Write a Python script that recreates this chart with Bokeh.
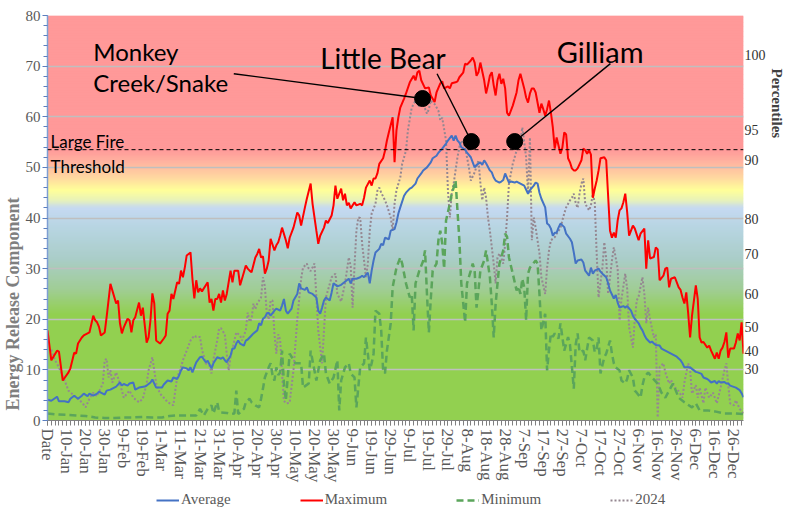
import math
import numpy as np
from bokeh.plotting import figure
from bokeh.layouts import column
from bokeh.models import (Range1d, LinearAxis, FixedTicker, Legend, LegendItem, Label, Span, Title)
from bokeh.embed import file_html
from bokeh.resources import INLINE

# ---------------- data ----------------
tick_days = list(range(0, 361, 10))
tick_labels = ["Date", "10-Jan", "20-Jan", "30-Jan", "9-Feb", "19-Feb", "1-Mar", "11-Mar",
               "21-Mar", "31-Mar", "10-Apr", "20-Apr", "30-Apr", "10-May", "20-May", "30-May",
               "9-Jun", "19-Jun", "29-Jun", "9-Jul", "19-Jul", "29-Jul", "8-Aug", "18-Aug",
               "28-Aug", "7-Sep", "17-Sep", "27-Sep", "7-Oct", "17-Oct", "27-Oct", "6-Nov",
               "16-Nov", "26-Nov", "6-Dec", "16-Dec", "26-Dec"]

avg_pts = [(0,4.1),(2,3.9),(5,4.7),(6,3.8),(9,3.8),(11,3.6),(12,4.3),(14,4.9),(16,4.3),(18,4.9),(19,5.3),(21,4.8),(22,5.3),(24,4.9),(26,5.3),(27,5.7),(29,5.3),(30,5.1),(31,5.9),(33,6.1),(35,6.5),(36,6.7),(38,7.5),(39,6.9),(40,7.2),(42,6.9),(43,7.3),(45,7.5),(46,6.1),(47,6.3),(48,6.5),(51,6.7),(52,6.9),(54,7.5),(55,8.1),(57,6.5),(60,6.5),(61,7.1),(63,7.9),(65,7.7),(66,8.5),(68,8.2),(69,8.9),(70,9.9),(71,10.5),(73,10.3),(74,9.9),(75,10.5),(76,9.5),(77,10.5),(78,11.5),(80,12.5),(81,12.6),(83,11.5),(84,11.8),(86,10.3),(87,11.3),(88,11.9),(89,12.5),(91,12.2),(92,12.5),(93,11.9),(94,11.5),(96,12.8),(97,14.2),(98,14.2),(99,15.2),(100,15.8),(101,15.2),(103,14.8),(104,15.8),(105,16.0),(107,16.8),(108,17.2),(110,17.8),(111,19.2),(112,18.8),(113,20.1),(114,20.4),(115,21.1),(116,21.3),(117,20.7),(119,21.7),(120,22.1),(122,21.7),(123,22.7),(124,24.0),(125,21.7),(126,21.1),(128,22.1),(129,23.7),(131,25.0),(132,27.1),(133,26.1),(135,25.8),(136,26.3),(137,25.3),(139,25.0),(141,24.3),(142,21.7),(143,21.1),(144,22.3),(145,23.7),(146,24.3),(148,23.7),(149,25.3),(150,27.1),(151,26.8),(152,26.5),(154,26.8),(155,27.1),(157,27.7),(158,28.0),(159,27.1),(160,28.0),(162,28.0),(164,28.3),(165,28.6),(166,28.3),(168,29.2),(169,27.1),(170,29.6),(171,31.6),(172,33.2),(174,33.9),(175,34.9),(176,34.6),(177,36.1),(179,35.8),(180,37.5),(182,37.8),(183,39.1),(184,40.9),(185,42.1),(187,44.4),(188,45.0),(190,45.8),(191,46.0),(193,46.8),(194,47.8),(196,48.8),(197,49.4),(199,50.0),(201,51.0),(202,51.8),(204,52.3),(205,52.9),(207,53.7),(209,54.7),(210,55.3),(212,56.3),(213,55.3),(214,56.3),(215,55.3),(216,54.9),(217,54.0),(219,53.5),(220,52.9),(222,52.0),(223,51.0),(224,50.0),(225,50.5),(227,51.0),(228,50.5),(229,51.4),(230,50.8),(232,49.4),(233,49.0),(234,48.0),(235,47.4),(237,47.0),(238,47.2),(239,47.5),(240,48.8),(242,47.0),(243,47.2),(245,47.0),(246,47.2),(247,47.0),(248,46.8),(250,46.4),(252,44.8),(253,45.5),(255,46.4),(256,47.0),(257,46.8),(258,45.0),(259,43.8),(261,42.1),(262,38.9),(263,38.6),(264,37.9),(265,36.5),(266,37.1),(267,37.1),(268,38.1),(269,38.9),(271,38.2),(272,36.9),(274,35.9),(275,35.2),(276,33.2),(277,31.0),(278,31.6),(280,31.8),(281,31.2),(282,29.6),(284,28.6),(285,30.2),(286,29.0),(287,29.6),(289,30.0),(290,29.4),(291,29.0),(293,28.3),(294,27.1),(295,25.7),(297,24.1),(298,24.8),(299,23.3),(300,22.3),(302,22.6),(303,22.3),(304,22.6),(306,21.7),(307,20.7),(308,20.1),(310,19.2),(311,18.4),(312,17.8),(313,16.9),(314,16.2),(316,15.4),(317,15.6),(318,15.2),(319,14.9),(321,14.8),(322,14.2),(323,14.0),(326,13.4),(329,12.8),(330,12.6),(332,11.9),(333,11.3),(334,10.5),(337,10.5),(339,9.9),(340,9.6),(341,9.5),(343,9.2),(344,8.5),(346,8.2),(347,7.9),(348,7.5),(350,7.8),(351,7.3),(352,7.8),(353,7.5),(355,7.6),(356,7.3),(357,7.3),(358,6.9),(361,6.5),(363,6.0),(364,5.4),(365,4.6)]

max_pts = [(0,17.8),(2,11.9),(5,13.8),(6,13.6),(8,7.9),(11,9.5),(12,10.3),(14,13.4),(15,13.2),(16,15.2),(18,16.4),(19,16.8),(21,17.2),(22,17.4),(24,20.7),(25,19.8),(26,19.4),(27,18.5),(28,16.8),(30,17.4),(31,20.4),(33,27.0),(34,25.7),(36,23.1),(37,23.7),(38,19.2),(39,17.2),(40,18.4),(42,20.1),(43,19.8),(44,17.4),(45,19.8),(46,20.4),(48,23.3),(49,20.7),(50,22.3),(52,15.4),(53,16.4),(54,19.8),(55,25.1),(56,23.1),(57,15.8),(59,15.2),(61,16.2),(62,16.8),(63,21.1),(64,21.7),(65,25.0),(66,24.0),(68,27.3),(69,27.0),(70,29.6),(71,28.3),(72,30.2),(73,32.6),(75,33.2),(76,28.0),(77,24.1),(78,27.7),(79,25.3),(80,26.1),(81,25.5),(84,27.3),(85,23.3),(86,24.0),(87,21.7),(88,24.0),(89,24.0),(90,25.0),(91,23.3),(92,25.7),(93,23.7),(94,25.0),(96,29.6),(97,27.3),(98,29.6),(99,29.6),(100,29.6),(101,26.7),(103,29.3),(104,30.6),(105,30.0),(106,29.6),(107,29.3),(109,32.2),(110,32.9),(111,33.9),(112,32.2),(113,32.4),(114,29.0),(115,30.0),(116,31.6),(117,35.9),(119,33.6),(120,34.6),(121,35.2),(122,36.5),(123,38.1),(125,35.6),(126,34.0),(127,36.1),(129,38.1),(131,41.1),(132,40.5),(133,38.5),(135,42.1),(136,43.8),(138,46.8),(139,42.8),(141,37.5),(142,34.9),(143,36.5),(145,38.1),(146,39.5),(147,39.0),(149,40.5),(150,42.5),(151,46.4),(152,43.8),(154,45.8),(155,43.5),(156,44.8),(157,42.5),(158,43.0),(159,41.9),(161,43.1),(162,42.5),(164,42.8),(165,42.5),(166,44.0),(167,46.0),(169,47.4),(170,46.4),(171,47.8),(172,47.8),(173,48.8),(174,50.7),(176,51.8),(177,53.3),(178,55.3),(179,56.9),(181,59.9),(182,51.0),(183,57.3),(184,59.9),(185,61.8),(187,63.6),(188,64.6),(190,66.8),(192,68.1),(193,67.2),(194,68.8),(195,69.1),(196,67.2),(198,65.6),(200,65.8),(201,64.2),(203,62.9),(204,64.8),(206,66.6),(207,67.0),(208,65.6),(210,66.0),(211,65.6),(212,66.6),(214,66.8),(215,67.0),(216,67.8),(218,68.7),(219,70.5),(220,70.3),(222,71.1),(223,71.7),(224,70.7),(225,68.1),(226,68.8),(227,70.7),(229,67.2),(230,64.6),(231,66.2),(232,68.1),(233,68.8),(234,66.2),(235,64.2),(236,67.2),(237,68.5),(238,66.5),(239,67.5),(240,65.6),(241,60.8),(242,60.2),(244,62.2),(246,64.8),(247,67.2),(248,68.5),(250,65.6),(251,63.8),(252,62.8),(253,64.6),(254,65.6),(255,65.6),(256,64.8),(258,60.8),(259,62.6),(260,61.5),(261,60.2),(262,61.5),(263,63.2),(264,60.8),(265,57.9),(266,53.7),(267,55.9),(269,52.7),(270,53.9),(271,56.9),(272,56.5),(273,51.8),(274,51.0),(275,49.8),(276,49.4),(277,49.4),(278,49.8),(280,51.4),(281,53.7),(282,53.4),(283,52.7),(284,53.4),(285,52.5),(286,44.0),(287,45.8),(288,47.4),(289,49.4),(290,51.8),(292,52.0),(293,51.4),(294,44.4),(295,37.5),(296,36.1),(297,37.1),(298,36.1),(299,39.5),(300,41.5),(301,41.9),(302,43.1),(303,44.8),(304,41.1),(305,36.5),(306,37.5),(307,38.5),(308,37.9),(310,35.6),(311,36.9),(313,37.9),(314,30.0),(315,35.6),(316,32.0),(318,32.3),(319,34.2),(320,33.8),(321,27.7),(323,28.6),(324,30.0),(325,30.2),(326,26.3),(327,28.0),(329,28.3),(331,26.3),(332,25.8),(333,24.3),(334,23.1),(335,25.3),(336,21.1),(337,16.4),(338,20.7),(339,23.7),(340,26.7),(341,24.0),(342,16.4),(343,15.4),(344,15.5),(346,14.4),(347,14.8),(348,13.8),(350,12.2),(351,13.4),(352,12.2),(353,13.8),(354,14.4),(355,15.5),(356,17.4),(357,12.4),(358,14.2),(360,14.2),(361,15.4),(362,17.2),(363,15.8),(364,19.4),(365,13.2)]

min_pts = [(0,1.4),(5,1.2),(10,1.1),(15,1.0),(20,0.9),(25,0.6),(30,0.5),(35,0.5),(40,0.6),(45,0.6),(50,0.7),(55,0.6),(60,0.6),(64,0.9),(68,1.0),(72,1.0),(78,1.0),(80,2.3),(82,1.0),(84,2.3),(86,3.0),(87,1.4),(89,3.6),(90,1.8),(91,1.6),(94,1.5),(96,1.3),(98,1.4),(99,5.9),(100,1.3),(101,1.6),(103,2.3),(104,3.6),(106,4.3),(107,3.6),(109,3.0),(111,2.6),(112,4.3),(113,6.3),(114,8.5),(115,9.5),(116,10.5),(117,11.3),(118,9.0),(119,7.9),(120,10.5),(121,9.0),(122,9.5),(123,13.8),(124,7.3),(125,4.0),(127,13.2),(130,11.3),(133,11.3),(134,6.5),(137,7.3),(138,13.8),(141,7.9),(143,11.9),(145,13.2),(146,9.3),(148,7.3),(150,8.5),(152,11.9),(153,2.0),(154,7.9),(156,10.5),(158,11.3),(159,9.3),(161,8.5),(162,2.6),(164,10.5),(166,11.3),(167,16.4),(169,9.9),(170,11.3),(171,13.2),(172,21.7),(174,21.1),(175,17.8),(176,9.9),(177,9.3),(178,13.8),(180,19.2),(181,26.3),(183,30.2),(185,32.2),(186,31.0),(188,27.1),(190,24.3),(191,25.0),(192,17.8),(193,27.1),(195,29.6),(197,31.5),(198,33.6),(199,25.0),(200,17.4),(201,24.0),(202,29.6),(204,31.0),(205,35.6),(206,37.5),(207,35.0),(208,30.0),(209,39.5),(211,42.8),(212,44.8),(213,46.0),(214,47.4),(215,41.5),(216,35.6),(217,27.1),(219,19.4),(220,27.1),(222,29.6),(223,31.0),(224,29.6),(225,22.3),(226,25.7),(227,29.6),(229,31.6),(230,33.6),(232,28.3),(233,23.1),(234,16.4),(235,23.0),(236,27.1),(237,31.0),(239,33.6),(240,36.9),(241,36.3),(242,32.2),(244,29.0),(246,25.7),(247,26.5),(248,25.0),(249,28.0),(250,26.3),(251,19.8),(252,29.0),(253,30.2),(256,31.6),(257,31.0),(258,25.0),(259,17.8),(261,21.1),(262,9.9),(263,14.0),(264,17.2),(265,16.5),(266,17.2),(268,16.2),(269,19.2),(270,16.5),(271,13.8),(273,16.5),(274,15.0),(276,6.3),(277,15.0),(278,17.2),(279,13.5),(281,13.8),(282,11.9),(283,14.2),(284,16.4),(286,15.8),(287,13.5),(288,14.2),(289,16.4),(290,9.3),(292,12.5),(293,13.2),(295,15.8),(296,13.2),(297,11.3),(298,10.5),(300,9.9),(301,7.9),(303,7.3),(304,8.2),(305,9.9),(307,8.5),(308,5.9),(309,5.5),(311,4.5),(312,6.9),(313,8.5),(315,9.5),(317,8.5),(320,7.3),(322,5.5),(324,4.5),(326,5.9),(328,7.3),(331,4.5),(334,3.6),(338,2.6),(340,3.4),(342,2.0),(346,2.0),(350,1.8),(355,1.4),(360,1.4),(365,1.3)]

y2024_pts = [(2,14.0),(4,11.9),(6,10.5),(9,7.9),(11,5.9),(14,4.9),(18,3.6),(20,2.6),(22,4.3),(24,5.5),(26,4.8),(29,7.3),(30,11.9),(31,12.2),(32,8.5),(33,9.9),(34,7.5),(36,9.5),(38,7.3),(40,4.5),(43,5.9),(45,4.5),(48,3.6),(50,4.3),(52,7.3),(53,9.9),(55,12.5),(56,9.9),(57,7.3),(59,5.3),(61,4.5),(63,3.6),(66,3.0),(67,5.9),(68,8.5),(70,10.5),(71,11.9),(73,13.8),(75,15.8),(77,16.8),(78,16.5),(80,16.5),(81,14.0),(83,11.3),(85,10.8),(86,9.3),(87,12.0),(89,15.8),(90,18.2),(91,18.2),(93,17.0),(94,13.2),(95,9.9),(96,12.5),(98,15.8),(99,17.4),(101,16.8),(102,15.8),(104,17.8),(105,21.3),(106,19.5),(107,20.0),(108,23.1),(109,22.0),(110,23.1),(112,24.3),(113,28.3),(114,26.5),(115,21.1),(116,20.0),(117,23.7),(118,23.7),(119,17.2),(120,13.2),(121,17.0),(122,16.0),(123,9.3),(124,3.9),(125,3.4),(127,3.5),(129,10.0),(131,20.0),(133,28.0),(134,30.2),(136,31.0),(137,30.0),(138,29.5),(140,31.0),(142,17.8),(144,11.3),(146,24.3),(149,28.3),(151,29.0),(152,25.0),(154,23.5),(156,27.0),(158,32.2),(159,30.5),(160,22.3),(161,30.5),(162,37.5),(163,40.1),(164,40.0),(165,34.9),(167,28.3),(168,31.0),(169,37.5),(170,40.9),(172,42.8),(173,45.4),(174,46.0),(175,45.0),(177,43.5),(178,42.5),(180,40.1),(181,37.5),(182,42.8),(183,45.5),(185,48.0),(186,50.7),(188,53.3),(189,57.3),(191,61.8),(193,63.2),(195,62.0),(197,62.6),(199,60.6),(200,61.5),(201,63.2),(203,62.5),(205,61.2),(206,59.3),(207,59.8),(209,55.3),(210,45.4),(211,40.1),(212,45.0),(213,46.8),(214,49.4),(215,52.0),(216,54.0),(217,55.3),(219,54.0),(220,52.0),(221,50.0),(222,47.4),(224,49.0),(226,51.4),(227,47.0),(228,43.5),(229,46.0),(230,44.0),(231,40.1),(232,37.5),(234,31.0),(235,27.1),(236,32.2),(237,33.0),(239,31.0),(240,34.9),(241,40.1),(242,46.8),(244,50.7),(246,53.3),(247,54.7),(248,55.0),(249,57.9),(250,55.0),(251,52.0),(252,44.8),(253,55.9),(254,35.6),(255,40.1),(256,38.1),(258,33.0),(259,28.3),(261,25.0),(262,30.2),(263,33.6),(264,35.6),(266,36.2),(267,36.9),(269,38.0),(270,39.5),(271,40.9),(272,42.1),(274,43.5),(275,44.0),(276,44.8),(277,43.0),(278,42.0),(279,44.8),(280,46.8),(281,47.8),(282,42.8),(284,41.5),(285,42.5),(286,44.8),(287,43.0),(288,33.0),(289,24.3),(291,30.2),(292,35.2),(293,32.0),(294,25.0),(296,31.6),(297,34.2),(299,30.0),(300,19.8),(301,24.0),(303,29.0),(304,26.0),(305,18.4),(307,14.4),(308,20.0),(309,23.7),(310,24.5),(312,28.3),(313,25.0),(314,19.2),(315,22.3),(316,20.0),(318,16.4),(319,17.0),(320,0.6),(321,10.5),(323,11.3),(324,9.5),(326,7.3),(327,8.0),(329,6.5),(331,5.8),(333,4.5),(334,7.5),(336,11.3),(337,10.0),(338,5.3),(340,7.0),(341,4.5),(342,6.5),(344,3.4),(345,6.5),(346,5.5),(347,4.5),(349,5.5),(351,3.4),(353,6.5),(355,9.9),(356,11.3),(357,7.0),(358,3.4),(360,3.0),(361,4.0),(363,2.3),(365,1.4)]

pct_labels = ["100", "95", "90", "80", "70", "60", "50", "40", "30"]
pct_erc = [72.1, 57.3, 51.4, 39.9, 32.8, 24.9, 18.4, 13.8, 10.1]

threshold_erc = 53.5
fire_names = ["Monkey Creek/Snake", "Little Bear", "Gilliam"]
fire_day = [196.7, 222.3, 245.0]
fire_erc = [63.6, 55.1, 55.1]

series_names = ["Average", "Maximum", "Minimum", "2024"]
series_colors = ["#4472C4", "#FF0000", "#5BA55B", "#958791"]
series_dash = ["solid", "solid", "7 4", "2 2"]
series_width = [2, 2, 2.5, 2]

# ---------------- main figure ----------------
p = figure(width=786, height=490, x_range=Range1d(0, 365), y_range=Range1d(0, 80),
           output_backend="svg", toolbar_location=None,
           min_border_left=43, min_border_right=43, min_border_top=15, min_border_bottom=70,
           background_fill_color="white", border_fill_color="white", outline_line_color=None)

# background gradient bands (styling)
stop_v = [0, 21, 26, 32, 38, 42, 43.5, 45.5, 48, 51, 53.5, 80]
stop_c = [(146, 208, 80), (146, 208, 80), (160, 205, 150), (170, 205, 200), (183, 213, 226),
          (197, 217, 241), (232, 242, 185), (255, 255, 153), (255, 215, 160), (255, 180, 160),
          (255, 153, 153), (255, 153, 153)]
step = 0.25
bots = np.arange(0, 80, step)
mids = bots + step / 2
cols = ["#%02x%02x%02x" % tuple(int(round(np.interp(m, stop_v, [c[i] for c in stop_c]))) for i in range(3))
        for m in mids]
p.quad(left=0, right=365, bottom=bots, top=np.minimum(bots + step * 1.8, 80),
       fill_color=cols, line_color=None, level="image")

p.xgrid.visible = False
p.ygrid.ticker = FixedTicker(ticks=list(range(10, 81, 10)))
p.ygrid.grid_line_color = "#BFBFBF"
p.ygrid.grid_line_width = 1.3

# left axis
ax = p.yaxis[0]
ax.ticker = FixedTicker(ticks=list(range(0, 81, 10)), minor_ticks=list(range(0, 81, 2)))
ax.axis_line_color = "#7F9FD3"
ax.axis_line_width = 1.5
ax.major_tick_line_color = "#5B7FC0"
ax.minor_tick_line_color = "#5B7FC0"
ax.major_tick_in = 0
ax.major_tick_out = 5
ax.minor_tick_in = 0
ax.minor_tick_out = 4
ax.major_label_text_font = "Liberation Serif"
ax.major_label_text_font_size = "15px"
ax.major_label_text_color = "#595959"
ax.major_label_standoff = 2
p.add_layout(Title(text="Energy Release Component", align="left", offset=10, standoff=0,
                   text_font="Liberation Serif", text_font_style="bold", text_font_size="18px",
                   text_color="#7F7F7F", vertical_align="bottom"), "left")

# bottom axis
bx = p.xaxis[0]
bx.ticker = FixedTicker(ticks=tick_days, minor_ticks=list(range(0, 366, 2)))
bx.major_label_overrides = {d: t for d, t in zip(tick_days, tick_labels)}
bx.major_label_orientation = -math.pi / 2
bx.axis_line_color = "#808080"
bx.major_tick_line_color = "#808080"
bx.minor_tick_line_color = "#808080"
bx.major_tick_in = 0
bx.major_tick_out = 5
bx.minor_tick_in = 0
bx.minor_tick_out = 5
bx.major_label_text_font = "Liberation Serif"
bx.major_label_text_font_size = "17px"
bx.major_label_text_color = "#595959"
bx.major_label_standoff = 3

# right (percentile) axis
rax = LinearAxis(ticker=FixedTicker(ticks=pct_erc),
                 major_label_overrides={v: t for v, t in zip(pct_erc, pct_labels)},
                 axis_line_color=None, major_tick_line_color=None, minor_tick_line_color=None,
                 major_tick_out=0, minor_tick_out=0,
                 major_label_standoff=1, major_label_text_font="Liberation Serif",
                 major_label_text_font_size="14px", major_label_text_color="#333333")
p.add_layout(rax, "right")
p.add_layout(Title(text="Percentiles", align="left", offset=53, standoff=0,
                   text_font="Liberation Serif", text_font_style="bold", text_font_size="15px",
                   text_color="#404040", vertical_align="bottom"), "right")

# series
d24, v24 = zip(*y2024_pts)
dmin, vmin = zip(*min_pts)
davg, vavg = zip(*avg_pts)
dmax, vmax = zip(*max_pts)
p.line(list(d24), list(v24), line_color=series_colors[3], line_width=series_width[3], line_dash=series_dash[3])
p.line(list(dmin), list(vmin), line_color=series_colors[2], line_width=series_width[2], line_dash=series_dash[2])
p.line(list(davg), list(vavg), line_color=series_colors[0], line_width=series_width[0], line_dash=series_dash[0])
p.line(list(dmax), list(vmax), line_color=series_colors[1], line_width=series_width[1], line_dash=series_dash[1])

# threshold
p.add_layout(Span(location=threshold_erc, dimension="width", line_color="black",
                  line_width=1, line_dash="4 3"))
p.add_layout(Label(x=1.6, y=55.1, text="Large Fire", text_font="Lato", text_font_size="17px",
                   text_color="black", text_baseline="alphabetic"))
p.add_layout(Label(x=1.6, y=50.2, text="Threshold", text_font="Lato", text_font_size="17px",
                   text_color="black", text_baseline="alphabetic"))

# fires: leader lines + markers + names
lab_x = [97.7, 204.3, 295.2]
lab_y = [68.5, 68.5, 70.5]
p.segment(x0=lab_x, y0=lab_y, x1=fire_day, y1=fire_erc, line_color="black", line_width=1.4)
p.scatter(fire_day, fire_erc, size=16, color="black")

p.add_layout(Label(x=24, y=72.9, text="Monkey", text_font="Lato", text_font_size="24px",
                   text_color="black", text_baseline="alphabetic"))
p.add_layout(Label(x=24, y=66.8, text="Creek/Snake", text_font="Lato", text_font_size="24px",
                   text_color="black", text_baseline="alphabetic"))
p.add_layout(Label(x=143, y=71.7, text="Little Bear", text_font="Lato", text_font_size="28px",
                   text_color="black", text_baseline="alphabetic"))
p.add_layout(Label(x=267, y=72.9, text="Gilliam", text_font="Lato", text_font_size="29px",
                   text_color="black", text_baseline="alphabetic"))

# ---------------- legend strip ----------------
lg = figure(width=786, height=18, x_range=Range1d(0, 1), y_range=Range1d(0, 1),
            output_backend="svg", toolbar_location=None, x_axis_location=None, y_axis_location=None,
            min_border=0, outline_line_color=None, background_fill_color="white",
            border_fill_color="white")
lg.grid.visible = False
items = []
for name, c, dsh, w in zip(series_names, series_colors, series_dash, series_width):
    # off-range stand-in so the legend has a glyph to draw
    r = lg.line([5, 6], [5, 5], line_color=c, line_dash=dsh, line_width=w)
    items.append(LegendItem(label=name, renderers=[r]))
legend = Legend(items=items, orientation="horizontal", location=(109, 0), padding=0, margin=0,
                spacing=69, glyph_width=23, glyph_height=16, label_height=16, label_standoff=2,
                label_text_font="Liberation Serif", label_text_font_size="15px",
                label_text_color="#595959", border_line_color=None, background_fill_alpha=0)
lg.add_layout(legend)

open("out.html", "w").write(file_html(column(p, lg, spacing=0), INLINE))
